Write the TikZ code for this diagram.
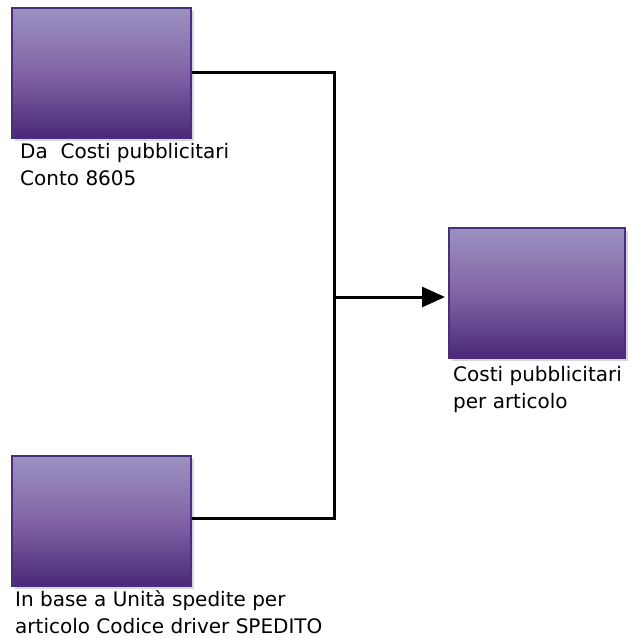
\documentclass[tikz,border=0pt]{standalone}
\usepackage{fontspec}
\setmainfont{DejaVu Sans}
\usetikzlibrary{arrows.meta,shadows}
\definecolor{boxtop}{RGB}{154,146,192}
\definecolor{boxmid}{RGB}{130,100,166}
\definecolor{boxbot}{RGB}{74,40,120}
\definecolor{boxline}{RGB}{75,45,128}
\definecolor{shade}{RGB}{216,216,216}
\tikzset{
  procbox/.style={draw=boxline, line width=1.5pt, top color=boxtop, bottom color=boxbot, middle color=boxmid,
    minimum width=179pt, minimum height=130pt, inner sep=0pt, anchor=north west,
    drop shadow={shadow xshift=3pt, shadow yshift=-3pt, fill=shade, opacity=1}},
  lbl/.style={anchor=base west, inner sep=0pt, align=left, font=\fontsize{20pt}{27pt}\selectfont},
  conn/.style={line width=3pt, black}
}
\begin{document}
\begin{tikzpicture}[x=1pt,y=-1pt]
\useasboundingbox (0,0) rectangle (634,638);
\node[procbox] (a) at (11,7) {};
\node[procbox] (b) at (11,455) {};
\node[procbox, minimum width=176pt] (c) at (448,227) {};
\node[lbl] (la) at (20,185) {Da\ \ Costi pubblicitari\\Conto 8605};
\node[lbl] (lb) at (15,633) {In base a Unità spedite per\\articolo Codice driver SPEDITO};
\node[lbl] (lc) at (453,408) {Costi pubblicitari\\per articolo};
\coordinate (j1) at (334,72);
\coordinate (j2) at (334,518);
\coordinate (m) at (334,297);
\draw[conn] (a.east |- j1) -- (j1) -- (j2) -- (b.east |- j2);
\draw[conn, -{Triangle[width=20pt,length=23pt]}, shorten >=3pt] (m) -- (c.west |- m);
\end{tikzpicture}
\end{document}
